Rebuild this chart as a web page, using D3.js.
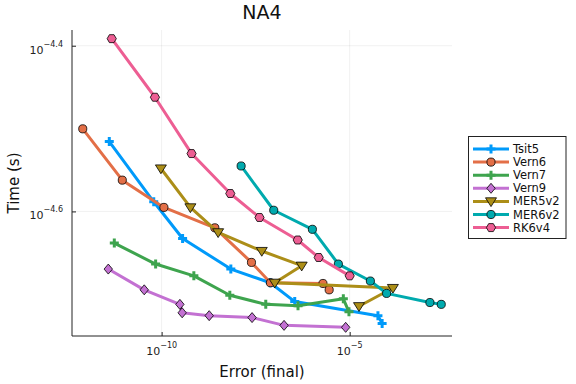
<!DOCTYPE html>
<html>
<head>
<meta charset="utf-8">
<script src="https://cdn.jsdelivr.net/npm/d3@7"></script>
<style>
  body { margin: 0; background: #fff; }
  text { font-family: "DejaVu Sans", sans-serif; }
</style>
</head>
<body>
<div id="chart"></div>
<script>
// 1: DATA
const seriesNames = ["Tsit5", "Vern6", "Vern7", "Vern9", "MER5v2", "MER6v2", "RK6v4"];
const seriesColors = ["#009AFA", "#E36F47", "#3EA44E", "#C371D2", "#AC8E18", "#00AAAE", "#ED5E93"];
const seriesMarkers = ["cross", "circle", "cross", "diamond", "dtriangle", "circle", "hexagon"];

const tsit5Err   = [4.06e-12, 6.17e-11, 3.61e-10, 6.92e-9, 7.73e-8, 3.46e-7, 5.64e-5, 7.29e-5];
const tsit5Time  = [3.05e-5, 2.58e-5, 2.33e-5, 2.14e-5, 2.06e-5, 1.955e-5, 1.88e-5, 1.84e-5];
const vern6Err   = [8.0e-13, 9.0e-12, 1.15e-10, 2.60e-9, 2.45e-8, 7.83e-8, 1.95e-6, 2.85e-6];
const vern6Time  = [3.16e-5, 2.74e-5, 2.54e-5, 2.40e-5, 2.18e-5, 2.06e-5, 2.056e-5, 2.02e-5];
const vern7Err   = [5.52e-12, 6.93e-11, 7.19e-10, 6.50e-9, 5.87e-8, 4.23e-7, 6.78e-6, 9.57e-6];
const vern7Time  = [2.30e-5, 2.17e-5, 2.10e-5, 1.99e-5, 1.94e-5, 1.932e-5, 1.97e-5, 1.90e-5];
const vern9Err   = [3.82e-12, 3.45e-11, 3.06e-10, 3.52e-10, 1.84e-9, 2.54e-8, 1.80e-7, 7.82e-6];
const vern9Time  = [2.14e-5, 2.02e-5, 1.94e-5, 1.895e-5, 1.88e-5, 1.87e-5, 1.83e-5, 1.82e-5];
const mer5v2Err  = [9.57e-11, 5.82e-10, 3.18e-9, 4.60e-8, 5.30e-7, 1.02e-7, 1.41e-4, 1.77e-5];
const mer5v2Time = [2.83e-5, 2.54e-5, 2.37e-5, 2.25e-5, 2.16e-5, 2.06e-5, 2.03e-5, 1.93e-5];
const mer6v2Err  = [1.30e-8, 9.57e-8, 1.02e-6, 5.00e-6, 3.55e-5, 9.59e-5, 1.36e-3, 2.72e-3];
const mer6v2Time = [2.85e-5, 2.52e-5, 2.39e-5, 2.17e-5, 2.07e-5, 2.00e-5, 1.95e-5, 1.94e-5];
const rk6v4Err   = [4.71e-12, 6.64e-11, 6.25e-10, 6.70e-9, 4.00e-8, 4.15e-7, 1.50e-6, 1.00e-5];
const rk6v4Time  = [4.06e-5, 3.45e-5, 2.95e-5, 2.64e-5, 2.47e-5, 2.32e-5, 2.21e-5, 2.10e-5];

const xTickExps = [-10, -5];
const yTickExps = [-4.6, -4.4];

const errs  = [tsit5Err, vern6Err, vern7Err, vern9Err, mer5v2Err, mer6v2Err, rk6v4Err];
const times = [tsit5Time, vern6Time, vern7Time, vern9Time, mer5v2Time, mer6v2Time, rk6v4Time];

const series = seriesNames.map((name, i) => ({
    name,
    color: seriesColors[i],
    marker: seriesMarkers[i],
    values: errs[i].map((e, j) => ({ err: e, time: times[i][j] }))
}));

// 2: LAYOUT
const W = 576, H = 384;
const plot = { left: 72, right: 452, top: 30, bottom: 336 };

const svg = d3.select("#chart").append("svg")
    .attr("width", W).attr("height", H);

// 3: SCALES (log extents widened by 3%, like Plots.jl)
function widenLog(vals) {
    const [a, b] = d3.extent(vals, v => Math.log10(v));
    const pad = (b - a) * 0.03;
    return [Math.pow(10, a - pad), Math.pow(10, b + pad)];
}
const allErr = series.flatMap(s => s.values.map(v => v.err));
const allTime = series.flatMap(s => s.values.map(v => v.time));

const x = d3.scaleLog().domain(widenLog(allErr)).range([plot.left, plot.right]);
const y = d3.scaleLog().domain(widenLog(allTime)).range([plot.bottom, plot.top]);

const xTicks = xTickExps.map(e => Math.pow(10, e));
const yTicks = yTickExps.map(e => Math.pow(10, e));

// 4: GRID
svg.append("g").selectAll("line").data(xTicks).enter().append("line")
    .attr("x1", d => x(d)).attr("x2", d => x(d))
    .attr("y1", plot.top).attr("y2", plot.bottom)
    .attr("stroke", "#000").attr("stroke-opacity", 0.1).attr("stroke-width", 0.6);
svg.append("g").selectAll("line").data(yTicks).enter().append("line")
    .attr("x1", plot.left).attr("x2", plot.right)
    .attr("y1", d => y(d)).attr("y2", d => y(d))
    .attr("stroke", "#000").attr("stroke-opacity", 0.1).attr("stroke-width", 0.6);

// 5: AXES
const xAxis = svg.append("g")
    .attr("transform", `translate(0,${plot.bottom})`)
    .call(d3.axisBottom(x).tickValues(xTicks).tickSize(-4).tickSizeOuter(0).tickFormat(""));
const yAxis = svg.append("g")
    .attr("transform", `translate(${plot.left},0)`)
    .call(d3.axisLeft(y).tickValues(yTicks).tickSize(-4).tickSizeOuter(0).tickFormat(""));

[xAxis, yAxis].forEach(a => {
    a.select(".domain").attr("stroke", "#222").attr("stroke-width", 1);
    a.selectAll(".tick line").attr("stroke", "#222").attr("stroke-width", 1);
});
// keep the axis lines spanning the whole plot area
xAxis.select(".domain").attr("d", `M${plot.left},0H${plot.right}`);
yAxis.select(".domain").attr("d", `M0,${plot.bottom}V${plot.top}`);

// tick labels with superscript exponents
xTickExps.forEach(e => {
    const t = svg.append("text")
        .attr("x", x(Math.pow(10, e)))
        .attr("y", 355)
        .attr("text-anchor", "middle")
        .attr("font-size", 11)
        .attr("fill", "#222");
    t.append("tspan").text("10");
    t.append("tspan").attr("dy", -7).attr("font-size", 8).text("\u2212" + Math.abs(e));
});
yTickExps.forEach(e => {
    const t = svg.append("text")
        .attr("x", 63)
        .attr("y", y(Math.pow(10, e)) + 8)
        .attr("text-anchor", "end")
        .attr("font-size", 11)
        .attr("fill", "#222");
    t.append("tspan").text("10");
    t.append("tspan").attr("dy", -7).attr("font-size", 8).text("\u2212" + Math.abs(e));
});

// 6: MARKERS
function markerPath(kind) {
    if (kind === "circle") return d3.symbol(d3.symbolCircle, 52)();
    if (kind === "diamond") return "M0,-5L4.2,0L0,5L-4.2,0Z";
    if (kind === "dtriangle") return "M-5.5,-3.6L5.5,-3.6L0,5.2Z";
    if (kind === "hexagon") {
        const r = 4.6;
        return d3.range(6).map(k => {
            const a = Math.PI / 3 * k;
            return (k ? "L" : "M") + (r * Math.cos(a)).toFixed(2) + "," + (r * Math.sin(a)).toFixed(2);
        }).join("") + "Z";
    }
    return null;
}

function drawMarker(g, kind, color, cx, cy) {
    if (kind === "cross") {
        g.append("path")
            .attr("d", `M${cx - 4.5},${cy}H${cx + 4.5}M${cx},${cy - 4.5}V${cy + 4.5}`)
            .attr("stroke", color).attr("stroke-width", 3).attr("fill", "none");
    } else {
        g.append("path")
            .attr("d", markerPath(kind))
            .attr("transform", `translate(${cx},${cy})`)
            .attr("fill", color)
            .attr("stroke", "#000").attr("stroke-width", 0.8);
    }
}

// 7: LINES AND POINTS
const line = d3.line().x(d => x(d.err)).y(d => y(d.time));

series.forEach(s => {
    const g = svg.append("g");
    g.append("path")
        .attr("d", line(s.values))
        .attr("fill", "none")
        .attr("stroke", s.color)
        .attr("stroke-width", 3)
        .attr("stroke-linejoin", "round");
    s.values.forEach(v => drawMarker(g, s.marker, s.color, x(v.err), y(v.time)));
});

// 8: TITLE AND LABELS
svg.append("text")
    .attr("x", (plot.left + plot.right) / 2)
    .attr("y", 18.5)
    .attr("text-anchor", "middle")
    .attr("font-size", 19)
    .attr("fill", "#111")
    .text("NA4");

svg.append("text")
    .attr("x", (plot.left + plot.right) / 2)
    .attr("y", 377)
    .attr("text-anchor", "middle")
    .attr("font-size", 15)
    .attr("fill", "#111")
    .text("Error (final)");

svg.append("text")
    .attr("transform", "rotate(-90)")
    .attr("x", -(plot.top + plot.bottom) / 2)
    .attr("y", 18.5)
    .attr("text-anchor", "middle")
    .attr("font-size", 15)
    .attr("fill", "#111")
    .text("Time (s)");

// 9: LEGEND
const legend = svg.append("g");
legend.append("rect")
    .attr("x", 468.5).attr("y", 136.5)
    .attr("width", 97.5).attr("height", 102)
    .attr("fill", "#fff").attr("stroke", "#222").attr("stroke-width", 1);

series.forEach((s, i) => {
    const ly = 149 + i * 13.1;
    const g = legend.append("g");
    g.append("line")
        .attr("x1", 473).attr("x2", 509)
        .attr("y1", ly).attr("y2", ly)
        .attr("stroke", s.color).attr("stroke-width", 3);
    drawMarker(g, s.marker, s.color, 491, ly);
    g.append("text")
        .attr("x", 513).attr("y", ly + 4)
        .attr("font-size", 11.5)
        .attr("fill", "#111")
        .text(s.name);
});
</script>
</body>
</html>
